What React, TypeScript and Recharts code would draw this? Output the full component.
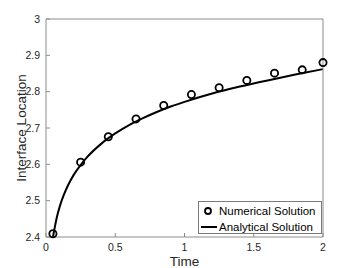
import { Line, LineChart, XAxis, YAxis, Label } from 'recharts';

const numericalTime = [0.05, 0.25, 0.45, 0.65, 0.85, 1.05, 1.25, 1.45, 1.65, 1.85, 2.0];
const numericalValue = [2.409, 2.606, 2.676, 2.725, 2.762, 2.792, 2.811, 2.831, 2.851, 2.86, 2.88];

const analyticalTime = [
  0.05, 0.06, 0.08, 0.1, 0.13, 0.16, 0.2, 0.25, 0.3, 0.4, 0.5, 0.6, 0.7, 0.8, 0.9, 1.0, 1.2, 1.4,
  1.6, 1.8, 2.0,
];
const analyticalValue = [
  2.4, 2.42, 2.457, 2.485, 2.517, 2.543, 2.571, 2.598, 2.621, 2.657, 2.685, 2.708, 2.727, 2.744,
  2.759, 2.772, 2.795, 2.814, 2.831, 2.847, 2.862,
];

const xTicks = [0, 0.5, 1, 1.5, 2];
const yTicks = [2.4, 2.5, 2.6, 2.7, 2.8, 2.9, 3];

const numericalData = numericalTime.map((t, i) => ({ t, v: numericalValue[i] }));
const analyticalData = analyticalTime.map((t, i) => ({ t, v: analyticalValue[i] }));

const font = '"Liberation Sans", Arial, Helvetica, sans-serif';
const axisGrey = '#8c8c8c';
const textColor = '#262626';

function LegendBox() {
  return (
    <div style={legendBox}>
      <div style={legendRow}>
        <svg width={18} height={12}>
          <circle cx={8} cy={6} r={3} fill="none" stroke="#000" strokeWidth={1.8} />
        </svg>
        <span>Numerical Solution</span>
      </div>
      <div style={legendRow}>
        <svg width={18} height={12}>
          <line x1={1} y1={6} x2={17} y2={6} stroke="#000" strokeWidth={2} />
        </svg>
        <span>Analytical Solution</span>
      </div>
    </div>
  );
}

export default function App() {
  return (
    <div style={{ position: 'absolute', left: 0, top: 0, width: 357, height: 268, background: '#fff' }}>
      <LineChart
        width={357}
        height={268}
        margin={{ top: 18, right: 33, bottom: 0, left: 0 }}
        style={{ fontFamily: font }}
      >
        <XAxis
          xAxisId="bottom"
          type="number"
          dataKey="t"
          domain={[0, 2]}
          ticks={xTicks}
          height={31}
          stroke={axisGrey}
          tickSize={-4}
          tickMargin={11}
          tick={{ fontSize: 10.5, fill: textColor }}
        >
          <Label value="Time" position="insideBottom" offset={2} style={{ fontSize: 13.5, fill: textColor }} />
        </XAxis>
        <XAxis
          xAxisId="top"
          orientation="top"
          type="number"
          dataKey="t"
          domain={[0, 2]}
          ticks={xTicks}
          height={1}
          stroke={axisGrey}
          tickSize={-4}
          tick={false}
        />
        <YAxis
          yAxisId="left"
          type="number"
          domain={[2.4, 3]}
          ticks={yTicks}
          width={46}
          stroke={axisGrey}
          tickSize={-4}
          tickMargin={10}
          tick={{ fontSize: 10.5, fill: textColor }}
        >
          <Label
            value="Interface Location"
            angle={-90}
            position="insideLeft"
            offset={21}
            style={{ fontSize: 13.5, fill: textColor, textAnchor: 'middle' }}
          />
        </YAxis>
        <YAxis
          yAxisId="right"
          orientation="right"
          type="number"
          domain={[2.4, 3]}
          ticks={yTicks}
          width={1}
          stroke={axisGrey}
          tickSize={-4}
          tick={false}
        />
        {/* hidden series so the top and right box axes get drawn */}
        <Line
          xAxisId="top"
          yAxisId="right"
          data={numericalData}
          dataKey="v"
          stroke="none"
          dot={false}
          activeDot={false}
          isAnimationActive={false}
        />
        <Line
          xAxisId="bottom"
          yAxisId="left"
          data={analyticalData}
          dataKey="v"
          type="monotone"
          stroke="#000"
          strokeWidth={2}
          dot={false}
          isAnimationActive={false}
        />
        <Line
          xAxisId="bottom"
          yAxisId="left"
          data={numericalData}
          dataKey="v"
          stroke="none"
          strokeWidth={0}
          dot={{ r: 3.6, stroke: '#000', strokeWidth: 1.8, fill: 'none' }}
          isAnimationActive={false}
        />
      </LineChart>
      <LegendBox />
    </div>
  );
}

const legendBox: React.CSSProperties = {
  position: 'absolute',
  left: 198,
  top: 201,
  boxSizing: 'border-box',
  width: 124,
  height: 33,
  border: '1px solid #7a7a7a',
  background: '#fff',
  fontFamily: font,
  fontSize: 11.5,
  color: '#000',
  padding: '1px 0 0 1px',
};

const legendRow: React.CSSProperties = {
  display: 'flex',
  alignItems: 'center',
  height: 16,
  gap: 1,
  whiteSpace: 'nowrap',
};
